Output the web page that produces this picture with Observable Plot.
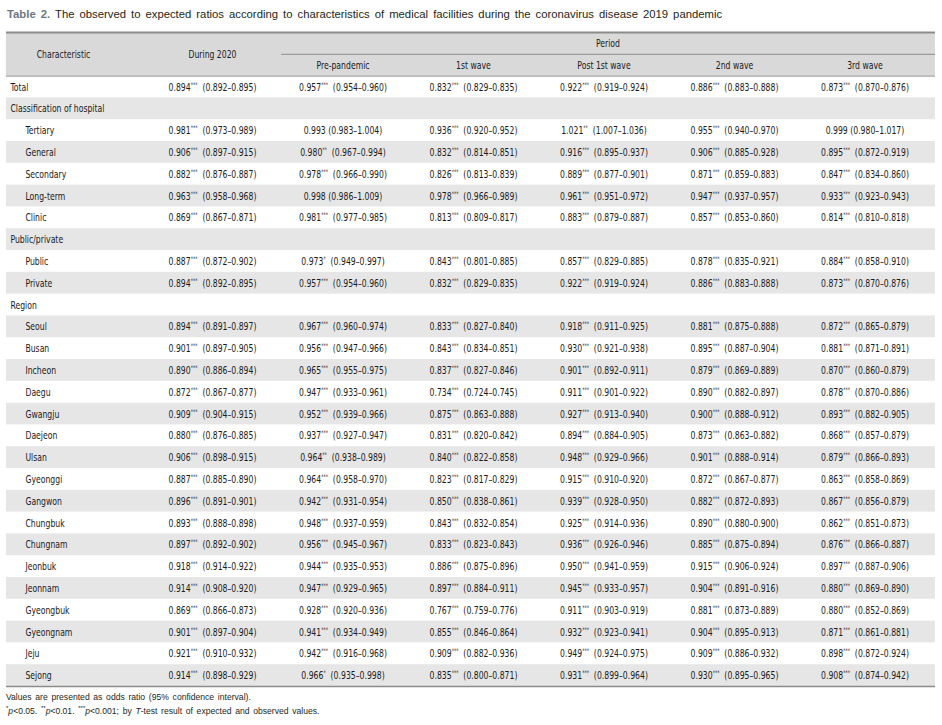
<!DOCTYPE html>
<html><head><meta charset="utf-8">
<script src="https://cdn.jsdelivr.net/npm/d3@7"></script>
<script src="https://cdn.jsdelivr.net/npm/@observablehq/plot@0.6"></script>
<style>
body{margin:0;background:#fff;color:#231f20}
#title{height:26px;line-height:28px;padding-left:7px;font-family:'Liberation Sans',Arial,sans-serif;font-size:11.3px;white-space:nowrap;word-spacing:1.9px}
#title b{color:#6b7785}
#notes{padding-left:6px;font-family:'Liberation Sans',Arial,sans-serif;font-size:8.6px;line-height:14px;word-spacing:1.3px;white-space:nowrap}
#notes sup{font-size:6px;vertical-align:4px;line-height:0}
</style></head><body>
<div id="title"><b>Table 2.</b> The observed to expected ratios according to characteristics of medical facilities during the coronavirus disease 2019 pandemic</div>
<div id="chart"></div>
<div id="notes">Values are presented as odds ratio (95% confidence interval).<br><sup>*</sup><i>p</i>&lt;0.05. <sup>**</sup><i>p</i>&lt;0.01. <sup>***</sup><i>p</i>&lt;0.001; by <i>T</i>-test result of expected and observed values.</div>
<script>
const rowLabels = ["Total","Classification of hospital","Tertiary","General","Secondary","Long-term","Clinic","Public/private","Public","Private","Region","Seoul","Busan","Incheon","Daegu","Gwangju","Daejeon","Ulsan","Gyeonggi","Gangwon","Chungbuk","Chungnam","Jeonbuk","Jeonnam","Gyeongbuk","Gyeongnam","Jeju","Sejong"];
const rowKinds = ["top","group","sub","sub","sub","sub","sub","group","sub","sub","group","sub","sub","sub","sub","sub","sub","sub","sub","sub","sub","sub","sub","sub","sub","sub","sub","sub"];
const columns = ["During 2020","Pre-pandemic","1st wave","Post 1st wave","2nd wave","3rd wave"];

// each cell: "ratio stars low high"; group rows are empty
const during2020 = ["0.894 *** 0.892 0.895","","0.981 *** 0.973 0.989","0.906 *** 0.897 0.915","0.882 *** 0.876 0.887","0.963 *** 0.958 0.968","0.869 *** 0.867 0.871","","0.887 *** 0.872 0.902","0.894 *** 0.892 0.895","","0.894 *** 0.891 0.897","0.901 *** 0.897 0.905","0.890 *** 0.886 0.894","0.872 *** 0.867 0.877","0.909 *** 0.904 0.915","0.880 *** 0.876 0.885","0.906 *** 0.898 0.915","0.887 *** 0.885 0.890","0.896 *** 0.891 0.901","0.893 *** 0.888 0.898","0.897 *** 0.892 0.902","0.918 *** 0.914 0.922","0.914 *** 0.908 0.920","0.869 *** 0.866 0.873","0.901 *** 0.897 0.904","0.921 *** 0.910 0.932","0.914 *** 0.898 0.929"];
const prePandemic = ["0.957 *** 0.954 0.960","","0.993 - 0.983 1.004","0.980 ** 0.967 0.994","0.978 *** 0.966 0.990","0.998 - 0.986 1.009","0.981 *** 0.977 0.985","","0.973 * 0.949 0.997","0.957 *** 0.954 0.960","","0.967 *** 0.960 0.974","0.956 *** 0.947 0.966","0.965 *** 0.955 0.975","0.947 *** 0.933 0.961","0.952 *** 0.939 0.966","0.937 *** 0.927 0.947","0.964 ** 0.938 0.989","0.964 *** 0.958 0.970","0.942 *** 0.931 0.954","0.948 *** 0.937 0.959","0.956 *** 0.945 0.967","0.944 *** 0.935 0.953","0.947 *** 0.929 0.965","0.928 *** 0.920 0.936","0.941 *** 0.934 0.949","0.942 *** 0.916 0.968","0.966 * 0.935 0.998"];
const firstWave = ["0.832 *** 0.829 0.835","","0.936 *** 0.920 0.952","0.832 *** 0.814 0.851","0.826 *** 0.813 0.839","0.978 *** 0.966 0.989","0.813 *** 0.809 0.817","","0.843 *** 0.801 0.885","0.832 *** 0.829 0.835","","0.833 *** 0.827 0.840","0.843 *** 0.834 0.851","0.837 *** 0.827 0.846","0.734 *** 0.724 0.745","0.875 *** 0.863 0.888","0.831 *** 0.820 0.842","0.840 *** 0.822 0.858","0.823 *** 0.817 0.829","0.850 *** 0.838 0.861","0.843 *** 0.832 0.854","0.833 *** 0.823 0.843","0.886 *** 0.875 0.896","0.897 *** 0.884 0.911","0.767 *** 0.759 0.776","0.855 *** 0.846 0.864","0.909 *** 0.882 0.936","0.835 *** 0.800 0.871"];
const postFirstWave = ["0.922 *** 0.919 0.924","","1.021 ** 1.007 1.036","0.916 *** 0.895 0.937","0.889 *** 0.877 0.901","0.961 *** 0.951 0.972","0.883 *** 0.879 0.887","","0.857 *** 0.829 0.885","0.922 *** 0.919 0.924","","0.918 *** 0.911 0.925","0.930 *** 0.921 0.938","0.901 *** 0.892 0.911","0.911 *** 0.901 0.922","0.927 *** 0.913 0.940","0.894 *** 0.884 0.905","0.948 *** 0.929 0.966","0.915 *** 0.910 0.920","0.939 *** 0.928 0.950","0.925 *** 0.914 0.936","0.936 *** 0.926 0.946","0.950 *** 0.941 0.959","0.945 *** 0.933 0.957","0.911 *** 0.903 0.919","0.932 *** 0.923 0.941","0.949 *** 0.924 0.975","0.931 *** 0.899 0.964"];
const secondWave = ["0.886 *** 0.883 0.888","","0.955 *** 0.940 0.970","0.906 *** 0.885 0.928","0.871 *** 0.859 0.883","0.947 *** 0.937 0.957","0.857 *** 0.853 0.860","","0.878 *** 0.835 0.921","0.886 *** 0.883 0.888","","0.881 *** 0.875 0.888","0.895 *** 0.887 0.904","0.879 *** 0.869 0.889","0.890 *** 0.882 0.897","0.900 *** 0.888 0.912","0.873 *** 0.863 0.882","0.901 *** 0.888 0.914","0.872 *** 0.867 0.877","0.882 *** 0.872 0.893","0.890 *** 0.880 0.900","0.885 *** 0.875 0.894","0.915 *** 0.906 0.924","0.904 *** 0.891 0.916","0.881 *** 0.873 0.889","0.904 *** 0.895 0.913","0.909 *** 0.886 0.932","0.930 *** 0.895 0.965"];
const thirdWave = ["0.873 *** 0.870 0.876","","0.999 - 0.980 1.017","0.895 *** 0.872 0.919","0.847 *** 0.834 0.860","0.933 *** 0.923 0.943","0.814 *** 0.810 0.818","","0.884 *** 0.858 0.910","0.873 *** 0.870 0.876","","0.872 *** 0.865 0.879","0.881 *** 0.871 0.891","0.870 *** 0.860 0.879","0.878 *** 0.870 0.886","0.893 *** 0.882 0.905","0.868 *** 0.857 0.879","0.879 *** 0.866 0.893","0.863 *** 0.858 0.869","0.867 *** 0.856 0.879","0.862 *** 0.851 0.873","0.876 *** 0.866 0.887","0.897 *** 0.887 0.906","0.880 *** 0.869 0.890","0.880 *** 0.852 0.869","0.871 *** 0.861 0.881","0.898 *** 0.872 0.924","0.908 *** 0.874 0.942"];

const columnCells = [during2020, prePandemic, firstWave, postFirstWave, secondWave, thirdWave];

// layout (column index space): table spans L..R
const L = -1.579, R = 5.54, HEAD = 2, NROWS = rowLabels.length;
const FONT = "'Liberation Sans Narrow','DejaVu Sans Condensed','Arial Narrow',sans-serif";
const SQUEEZE = 0.78; // horizontal compression to mimic the narrow typeface

const rows = rowLabels.map((label, i) => ({label, kind: rowKinds[i], y: HEAD + i}));
const cells = [];
columnCells.forEach((arr, j) => arr.forEach((s, i) => {
  if (!s) return;
  const [v, st, lo, hi] = s.split(" ");
  cells.push({col: j, y: HEAD + i, text: `${v}${st === "-" ? "" : st} (${lo}\u2013${hi})`});
}));
const shaded = rows.filter((d, i) => i % 2 === 1);

const chart = Plot.plot({
  width: 942, height: 664, marginTop: 6, marginBottom: 4, marginLeft: 0, marginRight: 0,
  x: {type: "linear", domain: [-1.6245, 5.594], axis: null},
  y: {type: "linear", domain: [0, HEAD + NROWS], reverse: true, axis: null},
  style: {fontFamily: FONT, fontSize: "11px", color: "#231f20", background: "transparent"},
  marks: [
    Plot.rect([0], {x1: () => L, x2: () => R, y1: () => 0, y2: () => HEAD, fill: "#d9d9d9"}),
    Plot.rect(shaded, {x1: () => L, x2: () => R, y1: "y", y2: d => d.y + 1, fill: "#e6e6e6"}),
    Plot.ruleY([0], {x1: () => L, x2: () => R, stroke: "#8c8c8c", strokeWidth: 2}),
    Plot.ruleY([1], {x1: () => 0.53, x2: () => R, stroke: "#8c8c8c", strokeWidth: 1}),
    Plot.ruleY([HEAD], {x1: () => L, x2: () => R, stroke: "#8c8c8c", strokeWidth: 1}),
    Plot.ruleY([HEAD + NROWS], {x1: () => L, x2: () => R, stroke: "#8c8c8c", strokeWidth: 1.5}),
    Plot.text(["Characteristic"], {x: () => -1.142, y: () => 1, text: d => d, fill: "#1a1a1a"}),
    Plot.text([columns[0]], {x: () => 0, y: () => 1, text: d => d, fill: "#1a1a1a"}),
    Plot.text(["Period"], {x: () => 3.03, y: () => 0.5, text: d => d, fill: "#1a1a1a"}),
    Plot.text(columns.slice(1), {x: (d, i) => i + 1, y: () => 1.5, text: d => d, fill: "#1a1a1a"}),
    Plot.text(rows.filter(d => d.kind !== "sub"), {x: () => L, dx: 4, y: d => d.y + 0.5, text: "label", textAnchor: "start", fill: "#1a1a1a"}),
    Plot.text(rows.filter(d => d.kind === "sub"), {x: () => L, dx: 19, y: d => d.y + 0.5, text: "label", textAnchor: "start", fill: "#1a1a1a"}),
    Plot.text(cells, {x: "col", y: d => d.y + 0.5, text: "text", fill: "#1a1a1a"})
  ]
});
document.getElementById("chart").appendChild(chart);

d3.select(chart).selectAll("text").each(function() {
  // superscript the significance stars
  const t = this.textContent;
  const m = t.match(/^([\d.]+)(\**) (\(.*)$/);
  if (m) {
    const el = d3.select(this);
    el.text(null);
    el.append("tspan").text(m[1]);
    if (m[2]) {
      el.append("tspan").attr("font-size", "6.5px").attr("dy", -4).text(m[2]);
      el.append("tspan").attr("dy", 4).text("\u00a0 " + m[3]);
    } else {
      el.append("tspan").text(" " + m[3]);
    }
  }
  // horizontal squeeze around the anchor point
  const tr = this.getAttribute("transform") || "";
  const x = +this.getAttribute("x") || 0;
  this.setAttribute("transform", `${tr} translate(${x},0) scale(${SQUEEZE},1) translate(${-x},0)`);
});
</script>
</body></html>
